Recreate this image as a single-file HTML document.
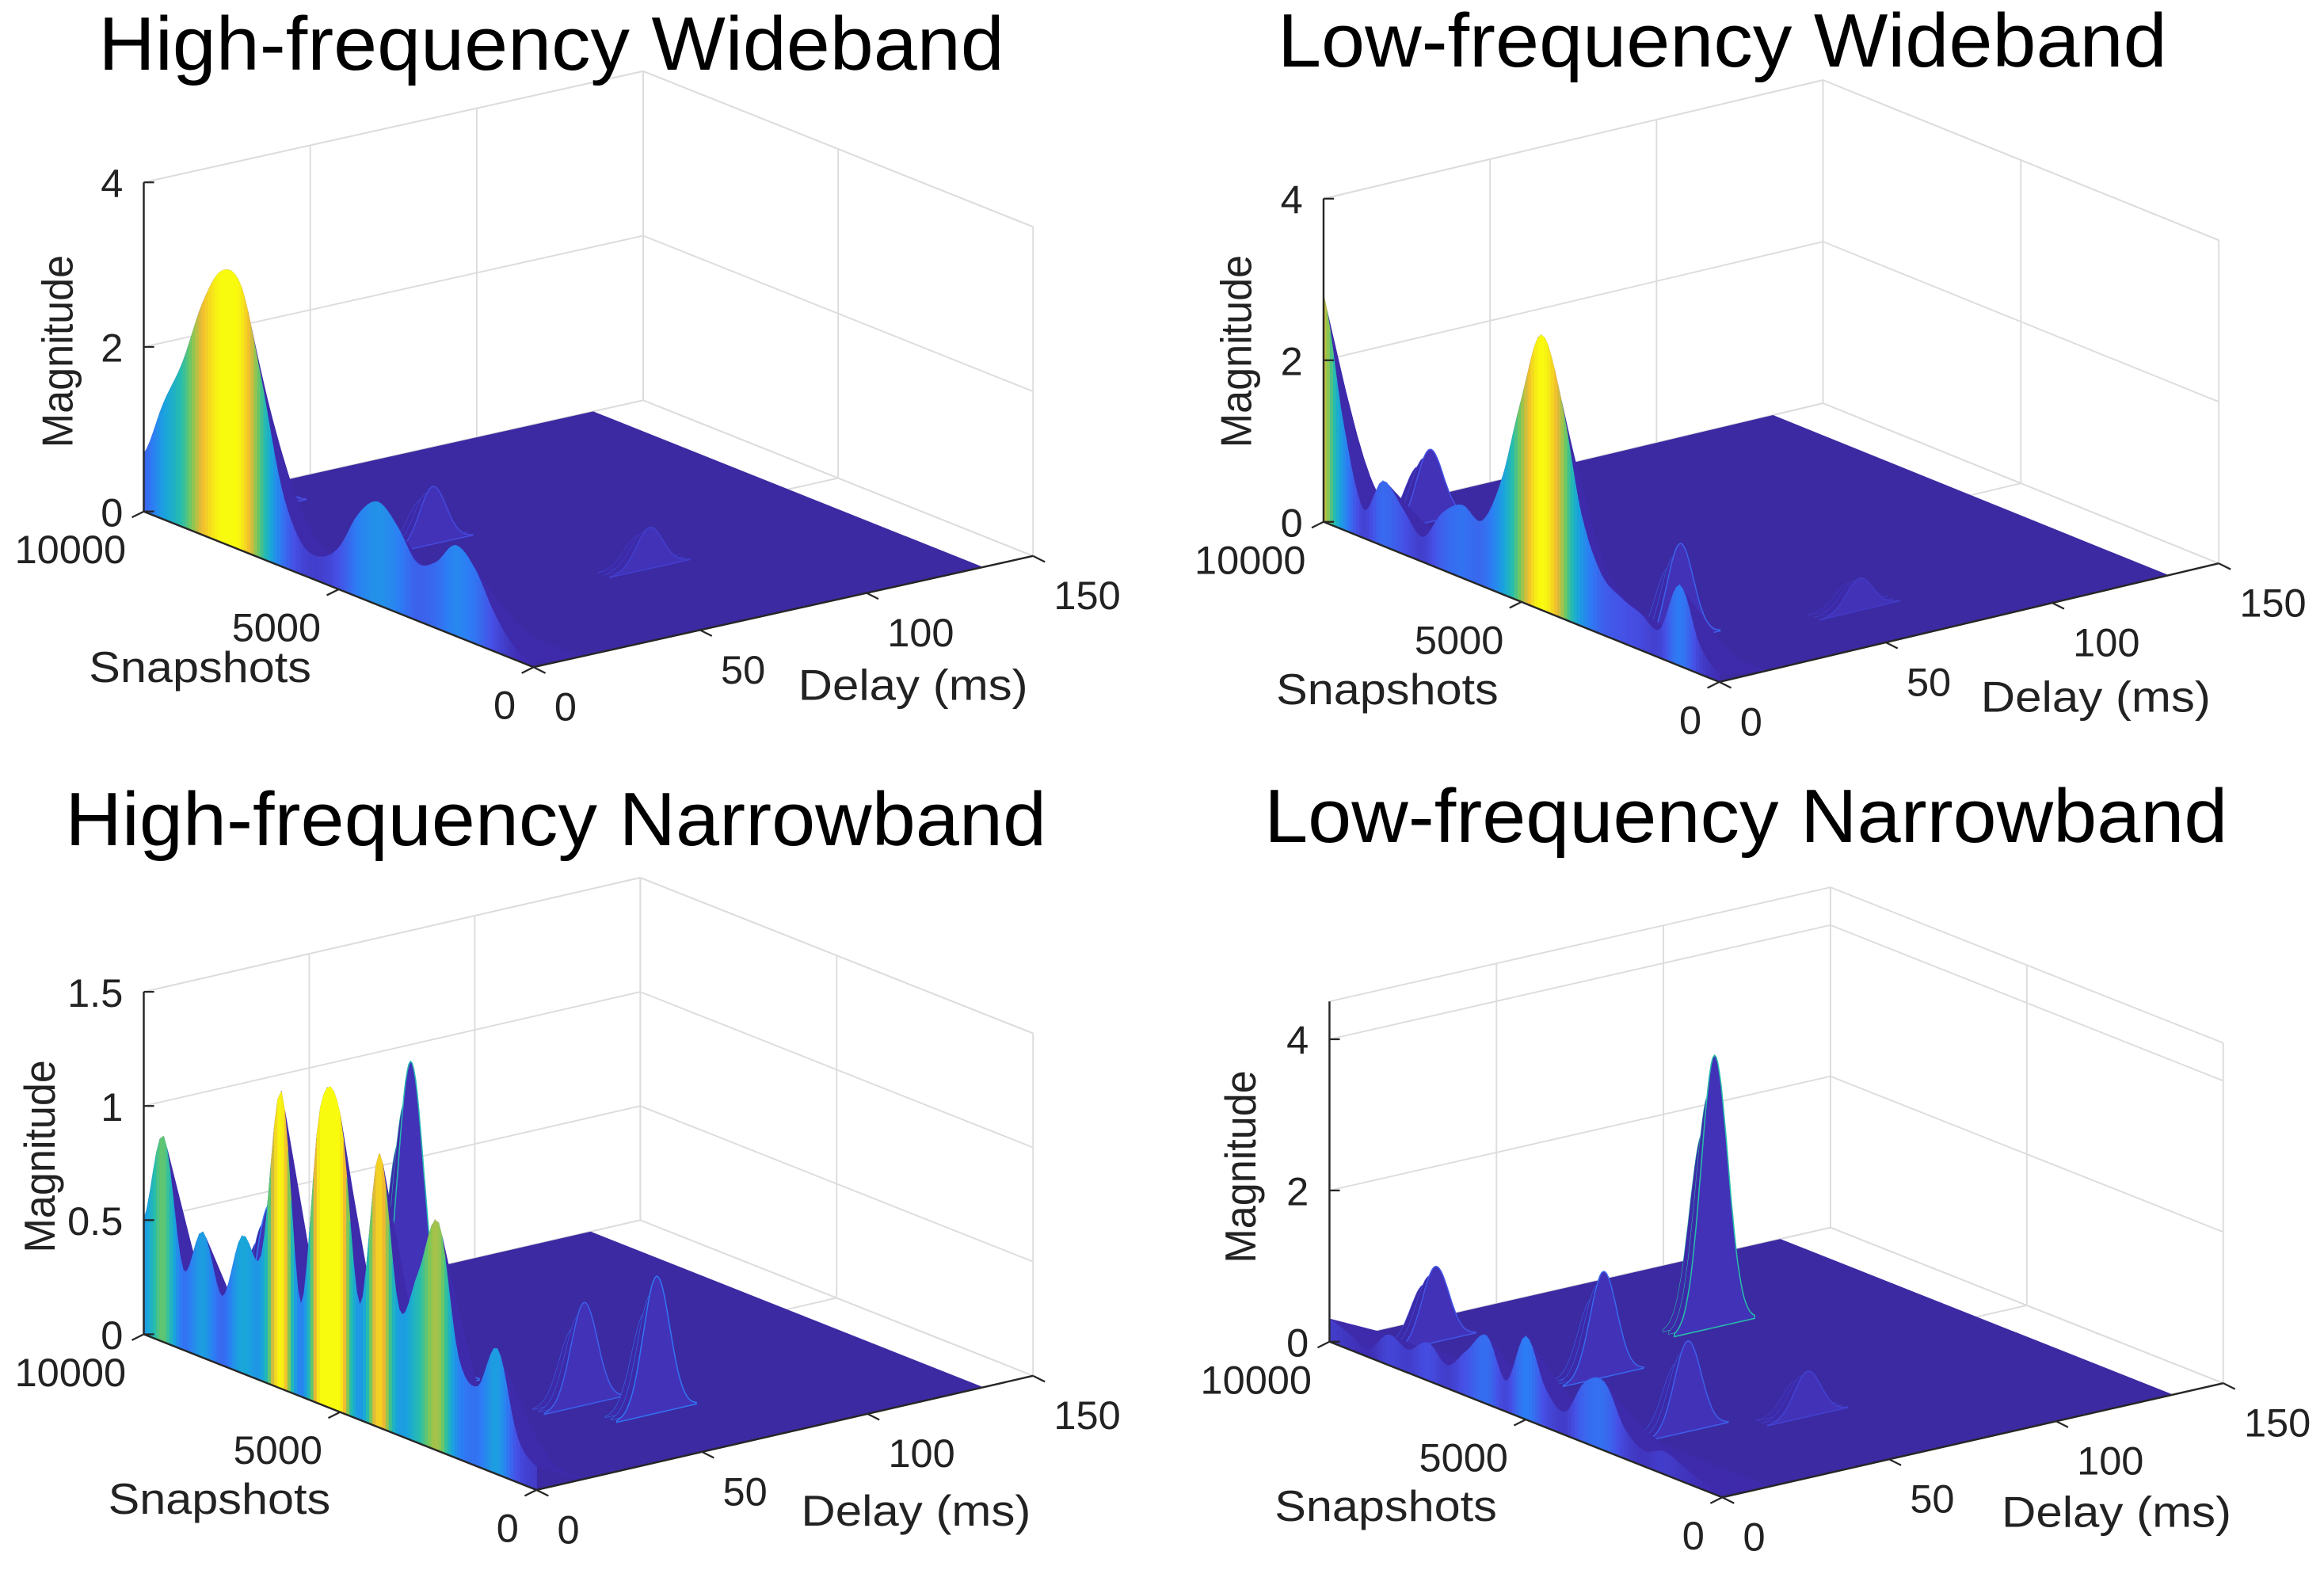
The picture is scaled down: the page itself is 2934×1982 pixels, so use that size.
<!DOCTYPE html>
<html><head><meta charset="utf-8">
<style>
html,body{margin:0;padding:0;background:#fff;}
svg{display:block;}
text{font-family:"Liberation Sans",Arial,sans-serif;fill:#222;}
</style></head>
<body>
<svg id="fig" xmlns="http://www.w3.org/2000/svg" width="2934" height="1982" viewBox="0 0 1568 1059" preserveAspectRatio="none"></svg>
<script>
// ---- data ----
const snapshots = [10000,9500,9000,8500,8000,7500,7000,6500,6000,5500,5000,4500,4000,3500,3000,2500,2000,1500,1000,500,0];
const delayTicks = [0,50,100,150];
const snapTicks = [0,5000,10000];
const hfwMag = [0.7,1.4,2.0,2.8,3.3,3.2,2.2,1.0,0.4,0.3,0.5,1.0,1.25,1.05,0.7,0.8,1.1,0.9,0.45,0.15,0.05];
const lfwMag = [2.8,1.3,0.35,0.8,0.55,0.3,0.7,0.9,0.8,1.4,2.5,3.4,2.7,1.4,0.75,0.55,0.45,0.35,1.0,0.35,0.1];
const hfnMag = [0.5,0.9,0.35,0.55,0.3,0.6,0.55,1.3,0.4,1.3,1.3,0.5,1.2,0.55,0.75,1.0,0.45,0.35,0.55,0.2,0.1];
const lfnMag = [0.3,0.2,0.1,0.4,0.3,0.5,0.3,0.6,0.9,0.4,1.1,0.5,0.3,0.8,0.9,0.4,0.2,0.3,0.2,0.1,0.05];
const hfwPeakSnap = [9000,6000,3000]; const hfwPeakDelay = [25,40,70]; const hfwPeakMag = [0.8,0.7,0.5];
const lfwPeakSnap = [9000,2000,1500]; const lfwPeakDelay = [20,12,60]; const lfwPeakMag = [0.9,1.2,0.4];
const hfnPeakSnap = [8500,7000,5000,3000,2000]; const hfnPeakDelay = [20,45,30,50,60]; const hfnPeakMag = [0.6,1.25,0.6,0.45,0.6];
const lfnPeakSnap = [9000,7000,6000,3000,2500]; const lfnPeakDelay = [20,80,35,25,55]; const lfnPeakMag = [1.0,3.6,1.4,1.2,0.6];

// ---- panel geometry ----
const panels = [
 {id:'hf-wideband',title:'High-frequency Wideband',tx:372,ty:47,tw:611,O:[360,450],S:[97,345],D:[697,375],k:55.5,zmax:4,zt:[0,2,4],mag:hfwMag,ps:hfwPeakSnap,pd:hfwPeakDelay,pm:hfwPeakMag,dEnd:135,
  sl:[135,460],dl:[616,472],ml:[40,237]},
 {id:'lf-wideband',title:'Low-frequency Wideband',tx:1162,ty:45,tw:600,O:[1160,460],S:[893,352],D:[1497,380],k:54.5,zmax:4,zt:[0,2,4],mag:lfwMag,ps:lfwPeakSnap,pd:lfwPeakDelay,pm:lfwPeakMag,dEnd:135,
  sl:[936,475],dl:[1414,480],ml:[835,237]},
 {id:'hf-narrowband',title:'High-frequency Narrowband',tx:375,ty:570,tw:662,O:[362,1005],S:[97,900],D:[697,928],k:154,zmax:1.5,zt:[0,0.5,1,1.5],mag:hfnMag,ps:hfnPeakSnap,pd:hfnPeakDelay,pm:hfnPeakMag,dEnd:135,
  sl:[148,1021],dl:[618,1029],ml:[28,780]},
 {id:'lf-narrowband',title:'Low-frequency Narrowband',tx:1178,ty:568,tw:650,O:[1162,1010],S:[897,905],D:[1500,933],k:51,zmax:4.5,zt:[0,2,4],mag:lfnMag,ps:lfnPeakSnap,pd:lfnPeakDelay,pm:lfnPeakMag,dEnd:135,
  sl:[935,1026],dl:[1428,1030],ml:[838,787]}
];
const NS='http://www.w3.org/2000/svg';
const svg=document.getElementById('fig');
function mk(tag,attrs,parent){const e=document.createElementNS(NS,tag);for(const a in attrs)e.setAttribute(a,attrs[a]);(parent||svg).appendChild(e);return e;}
const cmapStops=[[0,[62,38,168]],[0.15,[70,80,230]],[0.3,[45,125,245]],[0.45,[25,165,220]],[0.6,[40,190,170]],[0.72,[120,200,90]],[0.85,[240,185,50]],[1,[249,251,14]]];
function cmap(t){t=Math.max(0,Math.min(1,t));for(let i=1;i<cmapStops.length;i++){if(t<=cmapStops[i][0]){const a=cmapStops[i-1],b=cmapStops[i];const f=(t-a[0])/(b[0]-a[0]);const c=a[1].map((v,j)=>Math.round(v+(b[1][j]-v)*f));return 'rgb('+c.join(',')+')';}}return 'rgb(249,251,14)';}
function cr(p0,p1,p2,p3,t){return 0.5*((2*p1)+(-p0+p2)*t+(2*p0-5*p1+4*p2-p3)*t*t+(-p0+3*p1-3*p2+p3)*t*t*t);}

panels.forEach(p=>{
  const g=mk('g',{});
  
  
  const sv=[p.S[0]-p.O[0],p.S[1]-p.O[1]], dv=[p.D[0]-p.O[0],p.D[1]-p.O[1]];
  const P=(s,d,z)=>[p.O[0]+sv[0]*s/10000+dv[0]*d/150, p.O[1]+sv[1]*s/10000+dv[1]*d/150 - z*p.k];
  const pts=a=>a.map(q=>q[0].toFixed(1)+','+q[1].toFixed(1)).join(' ');
  const line=(a,b,st,w,name)=>{const l=mk('line',{x1:a[0],y1:a[1],x2:b[0],y2:b[1],stroke:st,'stroke-width':w},g);return l;};
  const gc='#dcdcdc';
  delayTicks.forEach(d=>{line(P(10000,d,0),P(10000,d,p.zmax),gc,1,'grid-line');line(P(0,d,0),P(10000,d,0),gc,1,'grid-line');});
  snapTicks.forEach(s=>{line(P(s,150,0),P(s,150,p.zmax),gc,1,'grid-line');line(P(s,0,0),P(s,150,0),gc,1,'grid-line');});
  p.zt.forEach(z=>{line(P(10000,0,z),P(10000,150,z),gc,1,'grid-line');line(P(10000,150,z),P(0,150,z),gc,1,'grid-line');});
  line(P(10000,0,p.zmax),P(10000,150,p.zmax),gc,1,'grid-line');line(P(10000,150,p.zmax),P(0,150,p.zmax),gc,1,'grid-line');
  const fl=mk('polygon',{points:pts([P(0,0,0),P(10000,0,0),P(10000,p.dEnd,0),P(0,p.dEnd,0)]),fill:'#3c2aa2'},g);
  
  const dmax=Math.max(...p.mag,...p.pm);
  const idx=p.ps.map((_,i)=>i).sort((a,b)=>p.ps[b]-p.ps[a]);
  idx.forEach(i=>{
    const s=p.ps[i],d0=p.pd[i],m=p.pm[i],sig=4;
    for(let w=2;w>=0;w--){
      const ss=s+w*150;const arr=[P(ss,d0-3*sig,0)];
      for(let d=d0-3*sig;d<=d0+3*sig;d+=0.5)arr.push(P(ss,d,m*Math.exp(-((d-d0)**2)/(2*sig*sig))*(1-w*0.15)));
      arr.push(P(ss,d0+3*sig,0));
      const pk=mk('polygon',{points:pts(arr),fill:w==0?'#4132b8':'#3c2aa8',stroke:cmap(m/dmax*0.6),'stroke-width':w==0?0.8:0.3},g);
      
    }
  });
  const n=snapshots.length,seg=[];
  for(let i=0;i<n-1;i++){
    const z0=p.mag[Math.max(0,i-1)],z1=p.mag[i],z2=p.mag[i+1],z3=p.mag[Math.min(n-1,i+2)];
    for(let t=0;t<6;t++){const a=t/6,b=(t+1)/6;
      seg.push([snapshots[i]+(snapshots[i+1]-snapshots[i])*a,Math.max(0,cr(z0,z1,z2,z3,a)),snapshots[i]+(snapshots[i+1]-snapshots[i])*b,Math.max(0,cr(z0,z1,z2,z3,b))]);}
  }
  const W=14;
  seg.forEach(q=>{
    const [sa,za,sb,zb]=q;
    const bk=mk('polygon',{points:pts([P(sa,0,za),P(sb,0,zb),P(sb,W,0),P(sa,W,0)]),fill:'#3e2bab',stroke:'#3e2bab','stroke-width':0.6},g);
    
  });
  seg.forEach(q=>{
    const [sa,za,sb,zb]=q;const zm=(za+zb)/2;const c=cmap(zm/dmax);
    const fr=mk('polygon',{points:pts([P(sa,0,0),P(sa,0,za),P(sb,0,zb),P(sb,0,0)]),fill:c,stroke:c,'stroke-width':0.6},g);
    
  });
  const ac='#262626';
  line(P(10000,0,0),P(10000,0,p.zmax),ac,1.3,'z-axis');
  line(P(10000,0,0),P(0,0,0),ac,1.3,'snapshots-axis');
  line(P(0,0,0),P(0,150,0),ac,1.3,'delay-axis');
  const txt=(x,y,s,size,anchor,name,extra)=>{const t=mk('text',Object.assign({x:x,y:y,'font-size':size,'text-anchor':anchor},extra||{}),g);t.textContent=s;return t;};
  p.zt.forEach(z=>{const q=P(10000,0,z);line(q,[q[0]+7,q[1]],ac,1.2,'z-tick');txt(q[0]-14,q[1]+10,String(z),27,'end','z-tick-label');});
  snapTicks.forEach(s=>{const q=P(s,0,0);line(q,[q[0]-8,q[1]+4],ac,1.2,'snapshots-tick');txt(q[0]-12,q[1]+35,String(s),27,'end','snapshots-tick-label');});
  delayTicks.forEach(d=>{const q=P(0,d,0);line(q,[q[0]+8,q[1]+4],ac,1.2,'delay-tick');txt(q[0]+14,q[1]+36,String(d),27,'start','delay-tick-label');});
  txt(p.sl[0],p.sl[1],'Snapshots',29,'middle','snapshots-axis-title',{textLength:150,lengthAdjust:'spacingAndGlyphs'});
  txt(p.dl[0],p.dl[1],'Delay (ms)',29,'middle','delay-axis-title',{textLength:155,lengthAdjust:'spacingAndGlyphs'});
  txt(p.ml[0]+9,p.ml[1],'Magnitude',29,'middle','magnitude-axis-title',{textLength:130,lengthAdjust:'spacingAndGlyphs',transform:'rotate(-90 '+(p.ml[0]+9)+' '+p.ml[1]+')'});
  txt(p.tx,p.ty,p.title,51,'middle','panel-title',{textLength:p.tw,lengthAdjust:'spacingAndGlyphs',style:'fill:#000'});
});
</script>
</body></html>
